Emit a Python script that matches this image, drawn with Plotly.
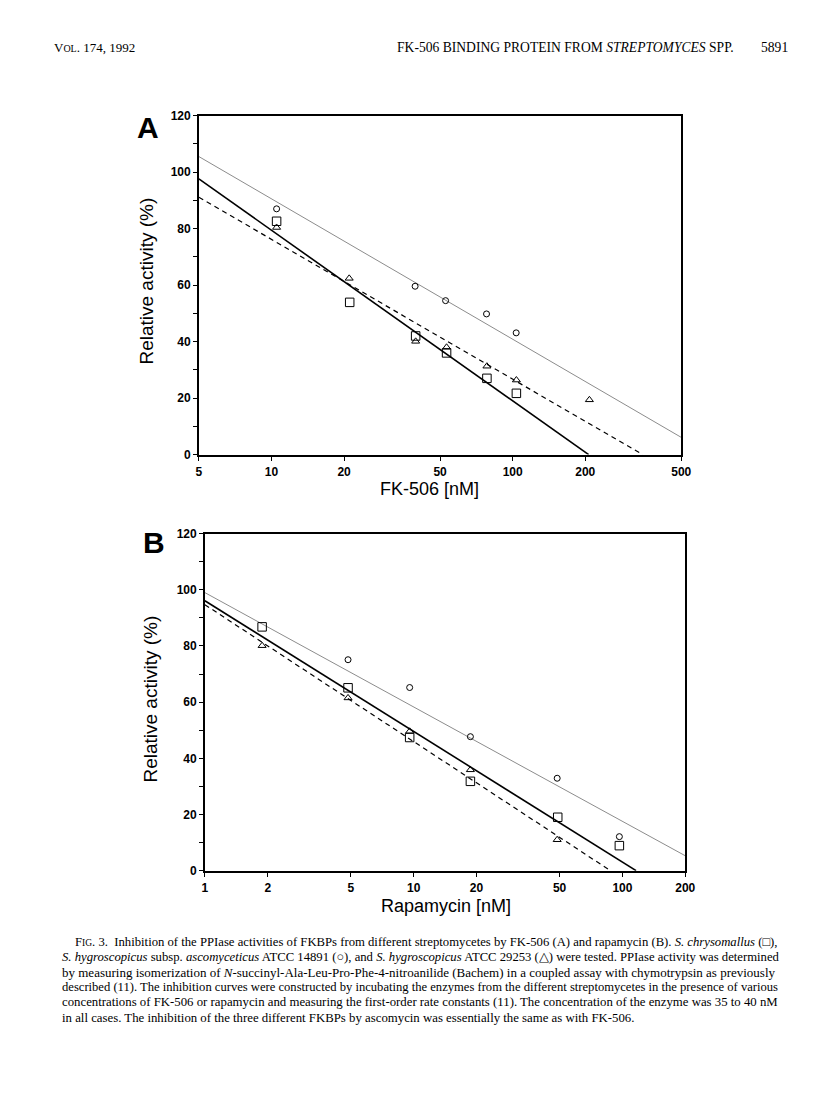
import math
import plotly.graph_objects as go

# ---------------- Data: panel A (FK-506) ----------------
a_sq_x = [10.5, 21.1, 39.6, 53.2, 78.2, 103.6]
a_sq_y = [82.6, 53.9, 42.0, 36.0, 27.0, 21.7]
a_ci_x = [10.5, 39.4, 52.7, 77.9, 103.4]
a_ci_y = [87.0, 59.6, 54.5, 49.8, 43.1]
a_tr_x = [10.5, 21.0, 39.6, 53.2, 78.2, 103.6, 208.0]
a_tr_y = [80.4, 62.4, 40.1, 38.0, 31.3, 26.4, 19.4]
# fitted lines (end points)
a_fit_ci_x = [5, 500]
a_fit_ci_y = [105.5, 6.1]
a_fit_sq_x = [5, 206.6]
a_fit_sq_y = [97.6, 0]
a_fit_tr_x = [5, 346]
a_fit_tr_y = [91.1, 0]

# ---------------- Data: panel B (rapamycin) ----------------
b_sq_x = [1.88, 4.85, 9.57, 18.7, 49.0, 96.7]
b_sq_y = [86.8, 65.1, 47.4, 31.8, 19.0, 8.9]
b_ci_x = [4.85, 9.57, 18.7, 48.7, 96.7]
b_ci_y = [75.1, 65.2, 47.7, 32.9, 12.1]
b_tr_x = [1.88, 4.85, 9.57, 18.7, 48.7]
b_tr_y = [80.1, 61.5, 49.6, 35.9, 11.0]
b_fit_ci_x = [1, 200]
b_fit_ci_y = [99.0, 5.3]
b_fit_sq_x = [1, 116.3]
b_fit_sq_y = [96.1, 0]
b_fit_tr_x = [1, 87.6]
b_fit_tr_y = [94.7, 0]

a_xticks = [5, 10, 20, 50, 100, 200, 500]
b_xticks = [1, 2, 5, 10, 20, 50, 100, 200]
y_major = [0, 20, 40, 60, 80, 100, 120]
y_minor = [10, 30, 50, 70, 90, 110]

# page body has an 8px default margin: keep figure inside the window
W, H = 800, 1080
OFF = 8
# empirical mapping of page pixels to the photographed picture
SX, AX = 0.985, 3.0
SY, AY = 0.987, 6.5
SANS = "Liberation Sans, Arial, sans-serif"
SERIF = "Liberation Serif, Times New Roman, serif"

fig = go.Figure()


def add_panel(xa, ya, sqx, sqy, cix, ciy, trx, try_, fci, fsq, ftr):
    fig.add_trace(go.Scatter(x=fci[0], y=fci[1], mode="lines", xaxis=xa, yaxis=ya,
                             line=dict(color="#8c8c8c", width=1), showlegend=False))
    fig.add_trace(go.Scatter(x=fsq[0], y=fsq[1], mode="lines", xaxis=xa, yaxis=ya,
                             line=dict(color="black", width=1.6), showlegend=False))
    fig.add_trace(go.Scatter(x=ftr[0], y=ftr[1], mode="lines", xaxis=xa, yaxis=ya,
                             line=dict(color="black", width=1.2, dash="5px,4px"), showlegend=False))
    fig.add_trace(go.Scatter(x=sqx, y=sqy, mode="markers", xaxis=xa, yaxis=ya,
                             marker=dict(symbol="square-open", size=8.5, color="black",
                                         line=dict(width=1)), showlegend=False))
    fig.add_trace(go.Scatter(x=cix, y=ciy, mode="markers", xaxis=xa, yaxis=ya,
                             marker=dict(symbol="circle-open", size=6, color="black",
                                         line=dict(width=1)), showlegend=False))
    fig.add_trace(go.Scatter(x=trx, y=try_, mode="markers", xaxis=xa, yaxis=ya,
                             marker=dict(symbol="triangle-up-open", size=7, color="black",
                                         line=dict(width=1)), showlegend=False))


add_panel("x", "y", a_sq_x, a_sq_y, a_ci_x, a_ci_y, a_tr_x, a_tr_y,
          (a_fit_ci_x, a_fit_ci_y), (a_fit_sq_x, a_fit_sq_y), (a_fit_tr_x, a_fit_tr_y))
add_panel("x2", "y2", b_sq_x, b_sq_y, b_ci_x, b_ci_y, b_tr_x, b_tr_y,
          (b_fit_ci_x, b_fit_ci_y), (b_fit_sq_x, b_fit_sq_y), (b_fit_tr_x, b_fit_tr_y))

tickfont = dict(family=SANS, size=12, color="black", weight="bold")


def px_x(p):
    return ((p - AX) / SX - OFF) / W


def px_y(p):
    return 1 - ((p - AY) / SY - OFF) / H


def xaxis(domain, ticks, rng, anchor):
    return dict(domain=domain, anchor=anchor, type="log", range=rng, tickvals=ticks,
                ticktext=[str(t) for t in ticks], ticks="outside", ticklen=5,
                tickwidth=1, tickcolor="black", showline=True, linecolor="black",
                linewidth=1.5, mirror=True, showgrid=False, zeroline=False,
                tickfont=tickfont)


def yaxis(domain, anchor):
    return dict(domain=domain, anchor=anchor, range=[0, 120], tickvals=y_major,
                ticks="outside", ticklen=4, tickwidth=1, tickcolor="black",
                minor=dict(tickvals=y_minor, ticks="outside", ticklen=4, tickwidth=1,
                           tickcolor="black"),
                showline=True, linecolor="black", linewidth=1.5, mirror=True,
                showgrid=False, zeroline=False, tickfont=tickfont)


fig.update_layout(
    width=W, height=H, margin=dict(l=0, r=0, t=0, b=0),
    paper_bgcolor="white", plot_bgcolor="white",
    xaxis=xaxis([px_x(199), px_x(682)], a_xticks, [math.log10(5), math.log10(500)], "y"),
    yaxis=yaxis([px_y(454), px_y(115)], "x"),
    xaxis2=xaxis([px_x(205), px_x(686)], b_xticks, [0, math.log10(200)], "y2"),
    yaxis2=yaxis([px_y(870), px_y(533)], "x2"),
)

ann = []
ann.append(dict(text="<b>A</b>", x=px_x(148), y=px_y(127), font=dict(family=SANS, size=30, color="black")))
ann.append(dict(text="<b>B</b>", x=px_x(154), y=px_y(542), font=dict(family=SANS, size=30, color="black")))
ann.append(dict(text="Relative activity (%)", x=px_x(147), y=px_y(280), textangle=-90,
                font=dict(family=SANS, size=19, color="black")))
ann.append(dict(text="Relative activity (%)", x=px_x(151), y=px_y(698), textangle=-90,
                font=dict(family=SANS, size=19, color="black")))
ann.append(dict(text="FK-506 [nM]", x=px_x(430), y=px_y(488),
                font=dict(family=SANS, size=18, color="black")))
ann.append(dict(text="Rapamycin [nM]", x=px_x(446), y=px_y(905),
                font=dict(family=SANS, size=18, color="black")))
ann.append(dict(text="V<span style='font-size:10px'>OL</span>. 174, 1992", x=px_x(52), y=px_y(47),
                xanchor="left", font=dict(family=SERIF, size=13, color="black")))
ann.append(dict(text="FK-506 BINDING PROTEIN FROM <i>STREPTOMYCES</i> SPP.", x=px_x(737), y=px_y(47),
                xanchor="right", font=dict(family=SERIF, size=13.6, color="black")))
ann.append(dict(text="5891", x=px_x(791), y=px_y(47), xanchor="right",
                font=dict(family=SERIF, size=13.6, color="black")))

caption = [
    "F<span style='font-size:9.5px'>IG</span>. 3.  Inhibition of the PPIase activities of FKBPs from different streptomycetes by FK-506 (A) and rapamycin (B). <i>S. chrysomallus</i> (□),",
    "<i>S. hygroscopicus</i> subsp. <i>ascomyceticus</i> ATCC 14891 (○), and <i>S. hygroscopicus</i> ATCC 29253 (△) were tested. PPIase activity was determined",
    "by measuring isomerization of <i>N</i>-succinyl-Ala-Leu-Pro-Phe-4-nitroanilide (Bachem) in a coupled assay with chymotrypsin as previously",
    "described (11). The inhibition curves were constructed by incubating the enzymes from the different streptomycetes in the presence of various",
    "concentrations of FK-506 or rapamycin and measuring the first-order rate constants (11). The concentration of the enzyme was 35 to 40 nM",
    "in all cases. The inhibition of the three different FKBPs by ascomycin was essentially the same as with FK-506.",
]
cap_sizes = [12.7, 12.7, 13.0, 12.6, 12.8, 12.8]
for i, line in enumerate(caption):
    ann.append(dict(text=line, x=px_x(73 if i == 0 else 60), y=px_y(941 + i * 15.2),
                    xanchor="left", font=dict(family=SERIF, size=cap_sizes[i], color="black")))

for a in ann:
    a.update(xref="paper", yref="paper", showarrow=False)
    a.setdefault("xanchor", "center")
    a.setdefault("yanchor", "middle")
fig.update_layout(annotations=ann)

fig.write_html("out.html")
